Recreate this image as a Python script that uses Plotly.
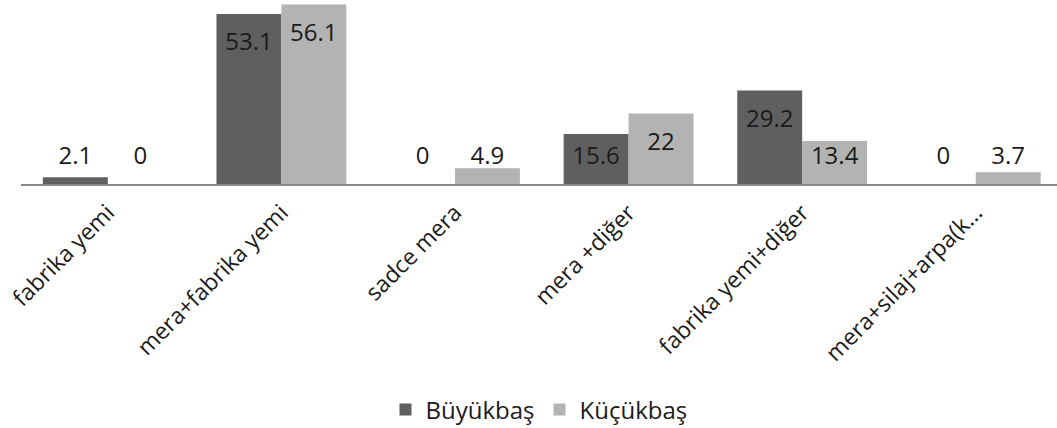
import plotly.graph_objects as go

categories = ["fabrika yemi", "mera+fabrika yemi", "sadce mera",
              "mera +diğer", "fabrika yemi+diğer", "mera+silaj+arpa(k..."]
buyukbas = [2.1, 53.1, 0, 15.6, 29.2, 0]
kucukbas = [0, 56.1, 4.9, 22, 13.4, 3.7]

DARK = "#5f5f5f"
LIGHT = "#b3b3b3"
FONT = "Open Sans, sans-serif"
TICK_SIZE = 23
LABEL_SIZE = 24
BAR_W = 0.374
LABEL_DROP = 9.4   # label centre below bar top (data units)
LABEL_MIN = 8.1    # lowest label centre (data units)

xs = list(range(len(categories)))


def label_y(vals):
    return [max(v - LABEL_DROP, LABEL_MIN) for v in vals]


fig = go.Figure()
fig.add_trace(go.Bar(x=xs, y=buyukbas, name="Büyükbaş", marker_color=DARK,
                     width=BAR_W, offset=-BAR_W, marker_line_width=0))
fig.add_trace(go.Bar(x=xs, y=kucukbas, name="Küçükbaş", marker_color=LIGHT,
                     width=BAR_W, offset=0, marker_line_width=0))

# value labels (Excel "inside end" look, clamped near the axis)
fig.add_trace(go.Scatter(x=[x - BAR_W / 2 for x in xs], y=label_y(buyukbas),
                         text=[f"{v:g}" for v in buyukbas], mode="text",
                         textfont=dict(size=LABEL_SIZE, color="#1a1a1a", family=FONT),
                         showlegend=False, hoverinfo="skip"))
fig.add_trace(go.Scatter(x=[x + BAR_W / 2 for x in xs], y=label_y(kucukbas),
                         text=[f"{v:g}" for v in kucukbas], mode="text",
                         textfont=dict(size=LABEL_SIZE, color="#1a1a1a", family=FONT),
                         showlegend=False, hoverinfo="skip"))

fig.update_layout(
    width=1057, height=428,
    margin=dict(l=21, r=0, t=0, b=244, autoexpand=False),
    plot_bgcolor="white", paper_bgcolor="white",
    font=dict(family=FONT, size=TICK_SIZE, color="#1a1a1a"),
    barmode="overlay",
    legend=dict(orientation="h", x=0.5, xanchor="center", y=-1.228, yanchor="middle",
                font=dict(size=LABEL_SIZE), itemwidth=30, traceorder="normal"),
)
fig.update_xaxes(range=[-0.5, 5.468], tickmode="array", tickvals=xs, ticktext=categories,
                 tickangle=-45, showline=True, linecolor="#898989", linewidth=2,
                 showgrid=False, zeroline=False, ticks="", automargin=False,
                 ticklabelstandoff=4, tickfont=dict(size=TICK_SIZE))
fig.update_yaxes(range=[0, 57.5], visible=False, showgrid=False, zeroline=False,
                 automargin=False)

# drop the browser's default 8px body margin so the figure sits at (0, 0)
fig.write_html("out.html", config={"displayModeBar": False},
               post_script="document.body.style.margin='0';")
